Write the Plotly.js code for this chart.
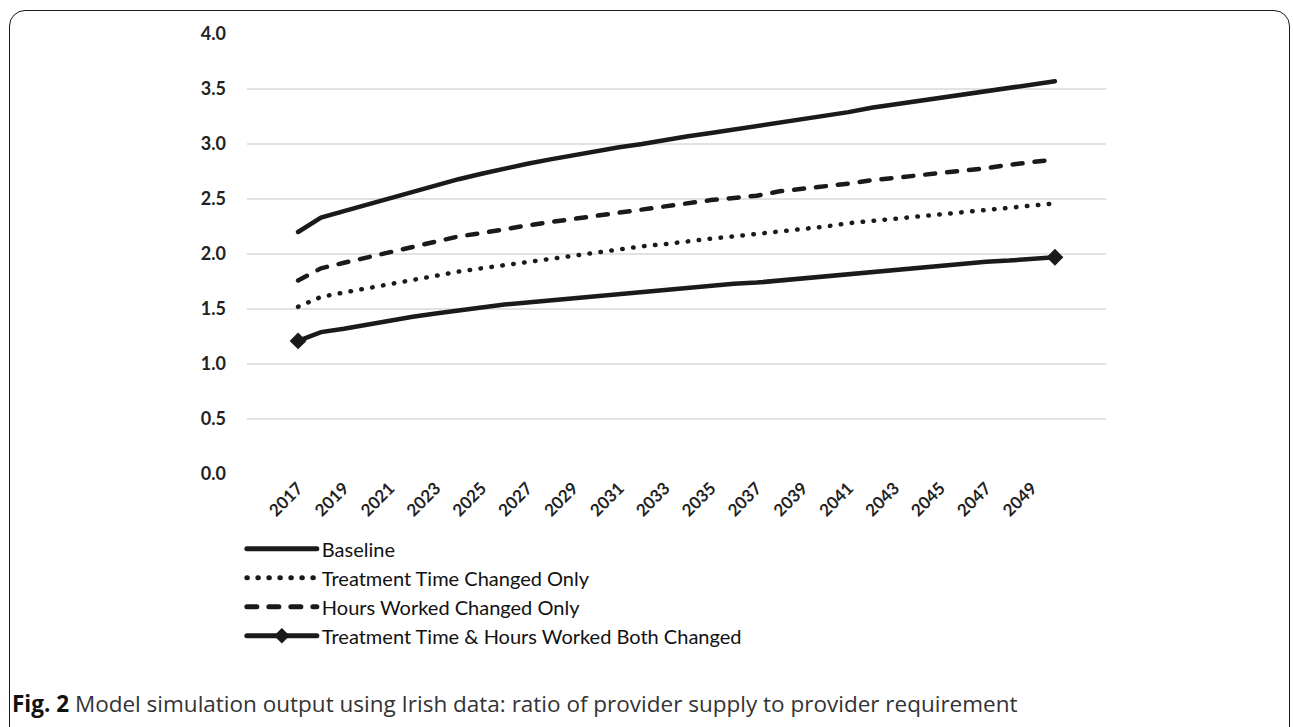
<!DOCTYPE html>
<html>
<head>
<meta charset="utf-8">
<script src="https://cdn.plot.ly/plotly-3.0.1.min.js"></script>
<style>
html,body{margin:0;padding:0;background:#fff;}
#wrap{position:relative;width:1293px;height:727px;overflow:hidden;}
#chart{position:absolute;left:0;top:0;width:1293px;height:727px;}
#frame{position:absolute;left:9px;top:10px;width:1281px;height:740px;border:1.8px solid #1a1a1a;border-radius:16px;pointer-events:none;box-sizing:border-box;}
.js-line{stroke-linecap:round !important;}
</style>
</head>
<body>
<div id="wrap"><div id="chart"></div><div id="frame"></div></div>
<script>
const years = ["2017","2018","2019","2020","2021","2022","2023","2024","2025","2026","2027","2028","2029","2030","2031","2032","2033","2034","2035","2036","2037","2038","2039","2040","2041","2042","2043","2044","2045","2046","2047","2048","2049","2050"];
const tickYears = ["2017","2019","2021","2023","2025","2027","2029","2031","2033","2035","2037","2039","2041","2043","2045","2047","2049"];
const baseline = [2.20,2.33,2.39,2.45,2.51,2.57,2.63,2.68,2.73,2.78,2.82,2.86,2.90,2.94,2.97,3.00,3.04,3.07,3.10,3.13,3.16,3.20,3.23,3.26,3.29,3.33,3.36,3.39,3.42,3.45,3.48,3.51,3.54,3.57];
const treatmentOnly = [1.52,1.61,1.65,1.69,1.73,1.77,1.80,1.84,1.87,1.90,1.93,1.96,1.99,2.02,2.04,2.07,2.09,2.12,2.14,2.16,2.18,2.21,2.23,2.25,2.28,2.30,2.32,2.34,2.36,2.38,2.40,2.42,2.44,2.46];
const hoursOnly = [1.76,1.87,1.92,1.97,2.02,2.07,2.12,2.16,2.19,2.23,2.26,2.29,2.32,2.35,2.38,2.41,2.44,2.46,2.49,2.51,2.53,2.57,2.59,2.61,2.64,2.67,2.69,2.71,2.74,2.76,2.78,2.81,2.83,2.86];
const bothChanged = [1.21,1.29,1.32,1.36,1.40,1.43,1.46,1.49,1.51,1.54,1.56,1.58,1.60,1.62,1.64,1.66,1.67,1.69,1.71,1.73,1.74,1.76,1.78,1.80,1.82,1.84,1.85,1.87,1.89,1.91,1.93,1.94,1.96,1.97];
const seriesNames = ["Baseline","Treatment Time Changed Only","Hours Worked Changed Only","Treatment Time & Hours Worked Both Changed"];
const captionBold = "Fig. 2";
const captionText = "Model simulation output using Irish data: ratio of provider supply to provider requirement";

const ink = "#1a1a1a";
const lw = 4.5;
const endMarkerSizes = years.map((y, i) => (i === 0 || i === years.length - 1) ? 13 : 0);

const traces = [
  {x: years, y: baseline, name: seriesNames[0], mode: "lines", line: {color: ink, width: lw}, legendgroup: "a"},
  {x: years, y: treatmentOnly, name: seriesNames[1], mode: "lines", line: {color: ink, width: lw, dash: "0.5px,10.5px"}, legendgroup: "b"},
  {x: years, y: hoursOnly, name: seriesNames[2], mode: "lines", line: {color: ink, width: lw, dash: "10px,12px"}, legendgroup: "c"},
  {x: years, y: bothChanged, name: seriesNames[3], mode: "lines+markers", line: {color: ink, width: lw},
   marker: {symbol: "diamond", size: endMarkerSizes, color: ink, opacity: 1, line: {width: 0}}, legendgroup: "d"}
];

const font = "Lato, 'Open Sans', sans-serif";
const layout = {
  width: 1293, height: 727,
  margin: {l: 247, r: 187, t: 34, b: 253},
  paper_bgcolor: "#fff", plot_bgcolor: "#fff",
  showlegend: true,
  legend: {
    x: -0.006, xanchor: "left", y: -0.1255, yanchor: "top",
    orientation: "v", traceorder: "grouped", tracegroupgap: 0,
    font: {family: font, size: 20, color: "#111"},
    itemwidth: 70, itemsizing: "constant", bgcolor: "rgba(0,0,0,0)"
  },
  xaxis: {
    type: "category",
    tickmode: "array", tickvals: tickYears, ticktext: tickYears,
    tickangle: -45,
    tickfont: {family: font, size: 17, color: "#222", weight: "bold"},
    showgrid: false, zeroline: false, showline: false,
    ticks: "", fixedrange: true
  },
  yaxis: {
    range: [0, 4], dtick: 0.5, tick0: 0, tickformat: ".1f",
    tickfont: {family: font, size: 18, color: "#222", weight: "bold"},
    showgrid: true, gridcolor: "#e2e2e2", gridwidth: 1.5,
    zeroline: false, showline: false, ticks: "", ticklabelstandoff: 20,
    fixedrange: true
  },
  annotations: [{
    xref: "paper", yref: "paper", x: (10 - 247) / 859, y: -229 / 440, xanchor: "left", yanchor: "middle",
    showarrow: false, align: "left",
    text: "<b>" + captionBold + "</b> <span style='color:#333'>" + captionText + "</span>",
    font: {family: "'Open Sans', sans-serif", size: 22.5, color: "#111"}
  }]
};

Plotly.newPlot("chart", traces, layout, {displayModeBar: false, staticPlot: true});
</script>
</body>
</html>
